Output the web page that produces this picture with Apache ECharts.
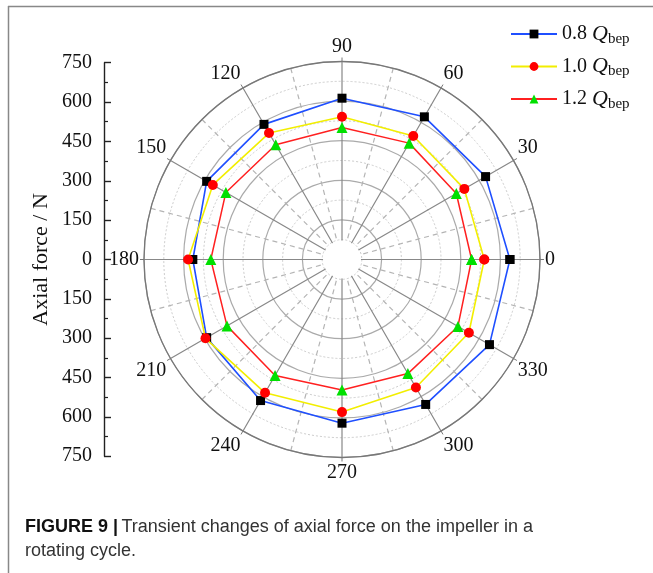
<!DOCTYPE html>
<html><head><meta charset="utf-8">
<script src="https://cdn.jsdelivr.net/npm/echarts@6/dist/echarts.min.js"></script>
<style>html,body{margin:0;padding:0;background:#fff}#c{width:653px;height:573px}</style>
</head><body><div id="c"></div>
<script>
const angles = [0, 30, 60, 90, 120, 150, 180, 210, 240, 270, 300, 330];
const q08 = [636, 628, 624, 611, 591, 592, 565, 592, 617, 620, 634, 645];
const q10 = [539, 535, 540, 541, 553, 565, 583, 597, 583, 578, 560, 555];
const q12 = [491, 500, 509, 500, 502, 508, 497, 503, 507, 494, 499, 507];
const seriesNames = ['0.8 Qbep', '1.0 Qbep', '1.2 Qbep'];
const legendParts = [['0.8 ', 'Q', 'bep'], ['1.0 ', 'Q', 'bep'], ['1.2 ', 'Q', 'bep']];
const yTickLabels = ['750','600','450','300','150','0','150','300','450','600','750'];

const serif = '"Liberation Serif", "Times New Roman", serif';
const sans = '"Liberation Sans", Arial, sans-serif';

function closed(vals) {
  const d = vals.map((v, i) => [v, angles[i]]);
  d.push([vals[0], 360]);
  return d;
}

const chart = echarts.init(document.getElementById('c'), null, {renderer: 'canvas'});
const cx = 342, cy = 259.5, R = 198;

chart.setOption({
  animation: false,
  backgroundColor: '#fff',
  polar: { center: [cx, cy], radius: [0, R] },
  angleAxis: {
    type: 'value', min: 0, max: 360, interval: 30,
    startAngle: 0, clockwise: false,
    axisLine: { show: true, lineStyle: { color: '#777', width: 1.3 } },
    axisTick: { show: true, length: 4, lineStyle: { color: '#777' } },
    axisLabel: {
      margin: 5, color: '#111', fontFamily: serif, fontSize: 20,
      formatter: v => (v >= 360 ? '' : String(v))
    },
    splitLine: { show: true, lineStyle: { color: '#888', width: 1.2 } },
    minorTick: { show: false, splitNumber: 2 },
    minorSplitLine: { show: true, lineStyle: { color: '#b4b4b4', type: [5, 4], width: 1.2 } }
  },
  radiusAxis: {
    type: 'value', min: 0, max: 750, interval: 150,
    axisLine: { show: false }, axisTick: { show: false }, axisLabel: { show: false },
    splitLine: { show: true, lineStyle: { color: '#aaa', width: 1.2 } },
    minorTick: { show: false, splitNumber: 2 },
    minorSplitLine: { show: true, lineStyle: { color: '#ccc', type: [2, 2], width: 1 } }
  },
  grid: { left: 104, top: 62.7, width: 10, height: 393.5, show: false },
  xAxis: { type: 'value', show: false, min: 0, max: 1 },
  yAxis: {
    type: 'value', min: -750, max: 750, interval: 150,
    axisLine: { show: true, lineStyle: { color: '#222', width: 1.4 } },
    axisTick: { show: true, inside: true, length: 7, lineStyle: { color: '#222', width: 1.4 } },
    minorTick: { show: true, splitNumber: 2, length: 4, lineStyle: { color: '#222', width: 1.2 } },
    axisLabel: {
      margin: 12, color: '#111', fontFamily: serif, fontSize: 20,
      formatter: v => yTickLabels[Math.round((750 - v) / 150)]
    },
    splitLine: { show: false },
    name: 'Axial force / N', nameLocation: 'middle', nameRotate: 90, nameGap: 52,
    nameTextStyle: { fontFamily: serif, fontSize: 22, color: '#111' }
  },
  legend: {
    orient: 'vertical', left: 505, top: 18, itemWidth: 46, itemHeight: 11, itemGap: 9,
    data: seriesNames,
    formatter: name => {
      const p = legendParts[seriesNames.indexOf(name)];
      return '{n|' + p[0] + '}{q|' + p[1] + '}{s|' + p[2] + '}';
    },
    textStyle: {
      rich: {
        n: { fontFamily: serif, fontSize: 20, color: '#111' },
        q: { fontFamily: serif, fontSize: 22, fontStyle: 'italic', color: '#111' },
        s: { fontFamily: serif, fontSize: 15, color: '#111', padding: [10, 0, 0, 0] }
      }
    }
  },
  series: [
    {
      name: seriesNames[0], type: 'line', coordinateSystem: 'polar', data: closed(q08),
      symbol: 'rect', symbolSize: 9, lineStyle: { color: '#1f4fff', width: 1.6 },
      itemStyle: { color: '#000' }, z: 3
    },
    {
      name: seriesNames[1], type: 'line', coordinateSystem: 'polar', data: closed(q10),
      symbol: 'circle', symbolSize: 10, lineStyle: { color: '#f2ee00', width: 1.6 },
      itemStyle: { color: '#ff0000' }, z: 4
    },
    {
      name: seriesNames[2], type: 'line', coordinateSystem: 'polar', data: closed(q12),
      symbol: 'triangle', symbolSize: 11, lineStyle: { color: '#ff2020', width: 1.5 },
      itemStyle: { color: '#00e000' }, z: 5
    }
  ],
  graphic: [
    { type: 'circle', shape: { cx: cx, cy: cy, r: 19 }, style: { fill: '#fff' }, z: 10 },
    { type: 'line', shape: { x1: 8, y1: 6.5, x2: 653, y2: 6.5 }, style: { stroke: '#888', lineWidth: 1.5 } },
    { type: 'line', shape: { x1: 8.5, y1: 6, x2: 8.5, y2: 573 }, style: { stroke: '#888', lineWidth: 1.5 } },
    {
      type: 'text', left: 25, top: 515,
      style: {
        text: '{b|FIGURE 9 |} {r|Transient changes of axial force on the impeller in a}\n{r|rotating cycle.}',
        lineHeight: 24,
        rich: {
          b: { fontFamily: sans, fontSize: 18, fontWeight: 'bold', fill: '#111', lineHeight: 24 },
          r: { fontFamily: sans, fontSize: 18, fill: '#333', lineHeight: 24 }
        }
      }
    }
  ]
});
</script></body></html>
